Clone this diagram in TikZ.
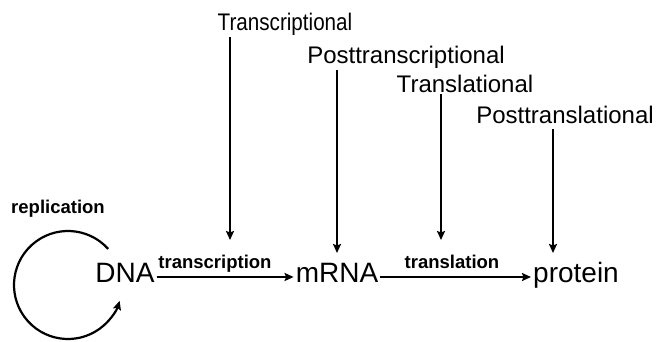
\documentclass[tikz,border=0pt]{standalone}
\usepackage{fontspec}
\setmainfont{Liberation Sans}
\usetikzlibrary{arrows.meta,calc}
\begin{document}
\begin{tikzpicture}[x=1pt,y=-1pt,
  lbl/.style={font=\fontsize{24}{28}\selectfont, inner sep=2pt, anchor=base},
  big/.style={font=\fontsize{28}{32}\selectfont, inner sep=2pt, anchor=base},
  sm/.style={font=\bfseries\fontsize{18.5}{22}\selectfont, inner sep=1pt, anchor=base},
  arr/.style={line width=2.2pt, -{Stealth[length=9pt,width=8pt,inset=1.5pt]}}]
\useasboundingbox (0,0) rectangle (659,341);
% level labels
\node[lbl, xscale=0.86, transform shape] (Tc) at (285,30) {Transcriptional};
\node[lbl] (Pt) at (406,63) {Posttranscriptional};
\node[lbl] (Tl) at (465,92) {Translational};
\node[lbl] (Pl) at (565,123) {Posttranslational};
% main nodes
\node[big] (DNA) at (125,282) {DNA};
\node[big] (mRNA) at (337,282) {mRNA};
\node[big] (prot) at (576,282) {protein};
\node[sm] (rep) at (58,213) {replication};
\node[sm] (tsc) at (215,268) {transcription};
\node[sm] (tsl) at (452,268) {translation};
% targets of vertical arrows
\coordinate (e1) at (230,240);
\coordinate (e2) at (337,253);
\coordinate (e3) at (441,240);
\coordinate (e4) at (553,253);
\draw[arr] (Tc.south -| e1) -- (e1);
\draw[arr] (Pt.south -| e2) -- (e2);
\draw[arr] (Tl.south -| e3) -- (e3);
\draw[arr] ([yshift=-4pt]Pl.south -| e4) -- (e4);
% horizontal arrows
\draw[arr] ($(DNA.base east)+(0,-5)$) -- ($(mRNA.base west)+(0,-5)$);
\draw[arr] ($(mRNA.base east)+(0,-5)$) -- ($(prot.base west)+(0,-5)$);
% replication loop
\coordinate (lc) at (68,285);
\draw[arr] ($(lc)+(-42:54)$) arc[start angle=-42, end angle=-343, radius=54];
\end{tikzpicture}
\end{document}
